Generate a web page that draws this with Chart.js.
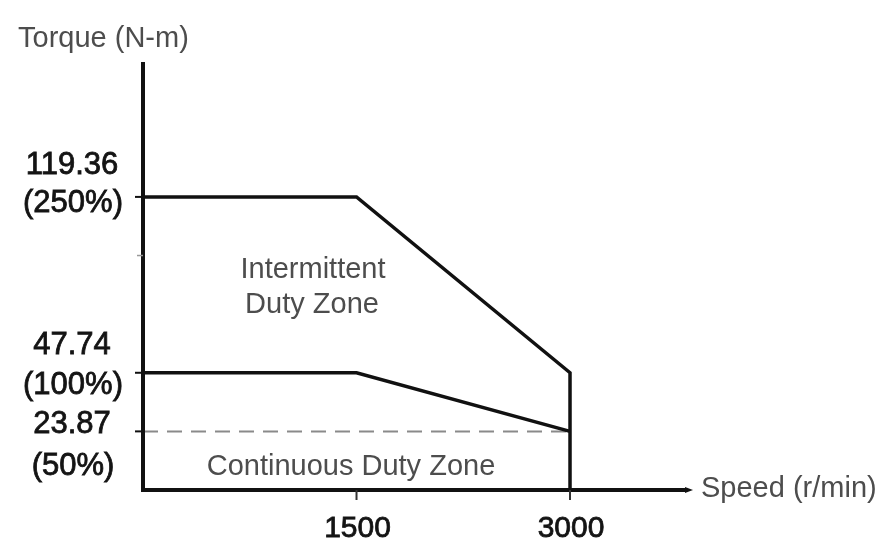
<!DOCTYPE html>
<html>
<head>
<meta charset="utf-8">
<script src="https://cdn.jsdelivr.net/npm/chart.js"></script>
<style>
  html, body { margin: 0; padding: 0; background: #fff; }
  #wrap { width: 885px; height: 549px; }
</style>
</head>
<body>
<div id="wrap"><canvas id="torqueChart" width="885" height="549"></canvas></div>
<script>
// torque / speed curve data
var speeds = [0, 1500, 3000];
var intermittentSpeed = [0, 1500, 3000, 3000];
var intermittentTorque = [119.36, 119.36, 47.74, 0];
var continuousTorque = [47.74, 47.74, 23.87];
var ratedSpeed = [0, 3000];
var ratedTorque = [23.87, 23.87];

var torqueTicks = [119.36, 47.74, 23.87];
var torquePercent = ["(250%)", "(100%)", "(50%)"];
var speedTicks = [1500, 3000];

function toPoints(xs, ys) {
  var pts = [];
  for (var i = 0; i < xs.length; i++) pts.push({ x: xs[i], y: ys[i] });
  return pts;
}

var FONT = '"Liberation Sans", Arial, sans-serif';

// slightly heavier text for the tick numbers
function heavyText(ctx, txt, x, y) {
  ctx.fillText(txt, x, y);
  ctx.strokeText(txt, x, y);
}

// axes, ticks and the text around them
var axesPlugin = {
  id: 'torqueAxes',
  afterDatasetsDraw: function (chart) {
    var ctx = chart.ctx;
    var xs = chart.scales.x, ys = chart.scales.y;
    var x0 = xs.getPixelForValue(0), y0 = ys.getPixelForValue(0);
    var top = chart.chartArea.top, right = chart.chartArea.right;
    ctx.save();

    // axis lines
    ctx.strokeStyle = '#111';
    ctx.lineWidth = 4;
    ctx.lineCap = 'butt';
    ctx.beginPath();
    ctx.moveTo(x0, top);
    ctx.lineTo(x0, y0 + 2);
    ctx.moveTo(x0 - 2, y0);
    ctx.lineTo(right - 6, y0);
    ctx.stroke();
    // small arrow head on the speed axis
    ctx.fillStyle = '#111';
    ctx.beginPath();
    ctx.moveTo(right - 8, y0 - 3);
    ctx.lineTo(right, y0);
    ctx.lineTo(right - 8, y0 + 3);
    ctx.closePath();
    ctx.fill();

    // y ticks
    ctx.lineWidth = 2;
    torqueTicks.forEach(function (v) {
      var py = ys.getPixelForValue(v);
      ctx.beginPath();
      ctx.moveTo(x0 - 8, py);
      ctx.lineTo(x0, py);
      ctx.stroke();
    });
    // unlabeled 200% mark
    ctx.strokeStyle = '#999';
    ctx.lineWidth = 1.5;
    ctx.beginPath();
    ctx.moveTo(x0 - 6, ys.getPixelForValue(95.49));
    ctx.lineTo(x0, ys.getPixelForValue(95.49));
    ctx.stroke();

    // x ticks
    ctx.strokeStyle = '#333';
    ctx.lineWidth = 2;
    speedTicks.forEach(function (v) {
      var px = xs.getPixelForValue(v);
      ctx.beginPath();
      ctx.moveTo(px, y0);
      ctx.lineTo(px, y0 + 10);
      ctx.stroke();
    });

    // y tick labels: value above, percent below
    var above = [-23, -19, 2];
    var below = [15, 21, 44];
    ctx.fillStyle = '#141414';
    ctx.strokeStyle = '#141414';
    ctx.lineWidth = 0.8;
    ctx.font = '31px ' + FONT;
    ctx.textAlign = 'center';
    ctx.textBaseline = 'alphabetic';
    torqueTicks.forEach(function (v, i) {
      var py = ys.getPixelForValue(v);
      heavyText(ctx, v.toFixed(2), 72, py + above[i]);
      heavyText(ctx, torquePercent[i], 73, py + below[i]);
    });

    // x tick labels
    ctx.font = '30px ' + FONT;
    speedTicks.forEach(function (v) {
      heavyText(ctx, String(v), xs.getPixelForValue(v) + 1, y0 + 47);
    });

    // axis titles and zone labels
    ctx.fillStyle = '#4d4d4d';
    ctx.font = '29px ' + FONT;
    ctx.textAlign = 'left';
    ctx.fillText('Torque (N-m)', 18, 47);
    ctx.fillText('Speed (r/min)', right + 8, y0 + 7);
    ctx.textAlign = 'center';
    ctx.fillText('Intermittent', 313, 278);
    ctx.fillText('Duty Zone', 312, 313);
    ctx.fillText('Continuous Duty Zone', 351, 475);

    ctx.restore();
  }
};

var canvas = document.getElementById('torqueChart');
var torqueChart = new Chart(canvas, {
  type: 'scatter',
  data: {
    datasets: [
      {
        label: 'Intermittent',
        data: toPoints(intermittentSpeed, intermittentTorque),
        showLine: true,
        borderColor: '#111',
        borderWidth: 3.5,
        pointRadius: 0,
        tension: 0,
        clip: false
      },
      {
        label: 'Continuous',
        data: toPoints(speeds, continuousTorque),
        showLine: true,
        borderColor: '#111',
        borderWidth: 3.5,
        pointRadius: 0,
        tension: 0,
        clip: false
      },
      {
        label: 'Rated',
        data: toPoints(ratedSpeed, ratedTorque),
        showLine: true,
        borderColor: '#8a8a8a',
        borderWidth: 2,
        borderDash: [15, 9],
        pointRadius: 0,
        tension: 0,
        clip: false
      }
    ]
  },
  options: {
    responsive: false,
    animation: false,
    events: [],
    layout: { padding: { left: 143, right: 192, top: 62, bottom: 59 } },
    plugins: { legend: { display: false }, tooltip: { enabled: false } },
    scales: {
      x: { type: 'linear', display: false, min: 0, max: 3864 },
      y: { type: 'linear', display: false, min: 0, max: 174.3 }
    }
  },
  plugins: [axesPlugin]
});
</script>
</body>
</html>
